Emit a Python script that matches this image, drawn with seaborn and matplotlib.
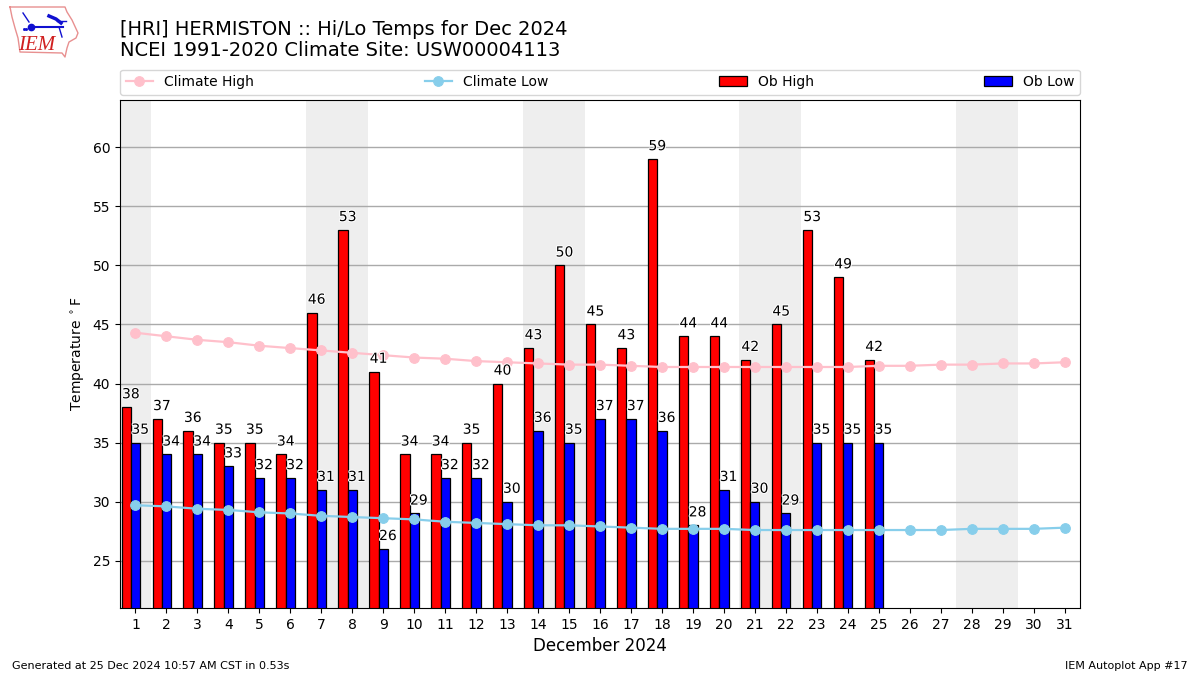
import matplotlib
matplotlib.use('Agg')
import matplotlib.pyplot as plt
import matplotlib.patheffects as pe
import numpy as np
import seaborn as sns

days = np.arange(1, 32)
ob_days = np.arange(1, 26)
climate_high = [44.3, 44.0, 43.7, 43.5, 43.2, 43.0, 42.8, 42.6, 42.4, 42.2, 42.1, 41.9, 41.8, 41.7, 41.6, 41.6,
                41.5, 41.4, 41.4, 41.4, 41.4, 41.4, 41.4, 41.4, 41.5, 41.5, 41.6, 41.6, 41.7, 41.7, 41.8]
climate_low = [29.7, 29.6, 29.4, 29.3, 29.1, 29.0, 28.8, 28.7, 28.6, 28.5, 28.3, 28.2, 28.1, 28.0, 28.0, 27.9,
               27.8, 27.7, 27.7, 27.7, 27.6, 27.6, 27.6, 27.6, 27.6, 27.6, 27.6, 27.7, 27.7, 27.7, 27.8]
ob_high = [38, 37, 36, 35, 35, 34, 46, 53, 41, 34, 34, 35, 40, 43, 50, 45, 43, 59, 44, 44, 42, 45, 53, 49, 42]
ob_low = [35, 34, 34, 33, 32, 32, 31, 31, 26, 29, 32, 32, 30, 36, 35, 37, 37, 36, 28, 31, 30, 29, 35, 35, 35]
weekends = [(0.5, 1.5), (6.5, 8.5), (13.5, 15.5), (20.5, 22.5), (27.5, 29.5)]

fig = plt.figure(figsize=(12, 6.75), dpi=100)
ax = fig.add_axes([0.1, 1 - 608 / 675, 0.8, 508 / 675])

for start, end in weekends:
    ax.axvspan(start, end, color='#eeeeee', lw=0, zorder=0)

# bars sit left of and on the day tick
sns.barplot(x=ob_days - 0.3, y=ob_high, native_scale=True, width=0.3, color='red', saturation=1,
            edgecolor='black', linewidth=0.9, label='Ob High', ax=ax, zorder=2)
sns.barplot(x=ob_days * 1.0, y=ob_low, native_scale=True, width=0.3, color='blue', saturation=1,
            edgecolor='black', linewidth=0.9, label='Ob Low', ax=ax, zorder=2)
sns.lineplot(x=days, y=climate_high, color='pink', marker='o', markersize=7, markeredgecolor='pink', lw=1.6,
             label='Climate High', legend=False, ax=ax, zorder=3)
sns.lineplot(x=days, y=climate_low, color='skyblue', marker='o', markersize=7, markeredgecolor='skyblue', lw=1.6,
             label='Climate Low', legend=False, ax=ax, zorder=3)

white_edge = [pe.withStroke(linewidth=1.5, foreground='white')]
for day, high, low in zip(ob_days, ob_high, ob_low):
    ax.text(day - 0.15, high + 0.5, str(high), ha='center', va='bottom', fontsize=10,
            path_effects=white_edge, zorder=4)
    ax.text(day + 0.15, low + 0.5, str(low), ha='center', va='bottom', fontsize=10,
            path_effects=white_edge, zorder=4)

ax.set_xlim(0.5, 31.5)
ax.set_ylim(21, 64)
ax.set_xticks(days)
ax.set_xticklabels([str(d) for d in days])
ax.set_yticks(range(25, 61, 5))
ax.set_axisbelow(True)
ax.grid(True, axis='y', color='#aaaaaa', lw=1, zorder=1)
ax.grid(False, axis='x')
ax.set_xlabel('December 2024', fontsize=12, labelpad=4)
ax.set_ylabel(r'Temperature $^\circ$F')

handles, labels = ax.get_legend_handles_labels()
by_label = dict(zip(labels, handles))
order = ['Climate High', 'Climate Low', 'Ob High', 'Ob Low']
ax.legend([by_label[k] for k in order], order, ncol=4, mode='expand', loc='lower left',
          bbox_to_anchor=(0, 1.0105, 1, 0.05), borderaxespad=0, fontsize=10)

fig.text(0.1, 1 - 60 / 675, '[HRI] HERMISTON :: Hi/Lo Temps for Dec 2024\nNCEI 1991-2020 Climate Site: USW00004113',
         fontsize=14, ha='left', va='bottom', linespacing=1.16)
fig.text(0.01, 1 - 666 / 675, 'Generated at 25 Dec 2024 10:57 AM CST in 0.53s', fontsize=8, ha='left', va='center')
fig.text(0.99, 1 - 666 / 675, 'IEM Autoplot App #17', fontsize=8, ha='right', va='center')

# rough IEM logo
logo = fig.add_axes([0, 1 - 60 / 675, 84 / 1200, 60 / 675])
logo.set_xlim(0, 84)
logo.set_ylim(60, 0)
logo.axis('off')
outline_x = [10, 65, 67, 72, 78, 76, 69, 67, 65, 62, 20, 18, 15, 12, 10]
outline_y = [7, 7, 12, 20, 33, 38, 42, 48, 57, 53, 52, 38, 28, 17, 7]
logo.plot(outline_x, outline_y, color='#e89090', lw=1)
logo.plot([31, 63], [27, 27], color='#1010d0', lw=1.5)
logo.plot([31], [27], 'o', color='#1010d0', ms=4.5)
logo.plot([49, 56, 61], [16, 19, 23], color='#1010d0', lw=2.5)
logo.plot([57, 66], [21, 21], color='#1010d0', lw=1)
logo.plot([23, 29], [13, 22], color='#1010d0', lw=1)
logo.plot([59, 62], [27, 37], color='#1010d0', lw=1)
logo.plot([24, 26], [29, 29], 's', color='#1010d0', ms=1)
logo.text(37, 45, 'IEM', color='#d02020', fontsize=15, family='Liberation Serif', style='italic',
          ha='center', va='center')

fig.savefig('out.png', dpi=100)
